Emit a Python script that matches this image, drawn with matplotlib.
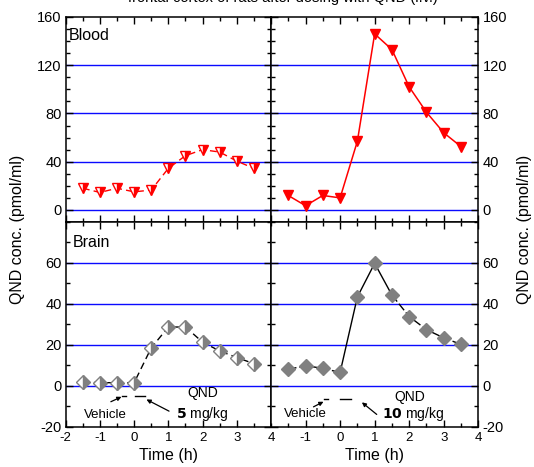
import matplotlib
matplotlib.use("Agg")
import matplotlib.pyplot as plt
from matplotlib.ticker import MultipleLocator

plt.rcParams['font.family'] = ['Liberation Sans', 'DejaVu Sans']
plt.rcParams['axes.unicode_minus'] = False

# Sampling times (h), dosing at t = 0
time_h = [-1.5, -1.0, -0.5, 0.0, 0.5, 1.0, 1.5, 2.0, 2.5, 3.0, 3.5]

# QND concentration (pmol/ml)
blood_5 = [18, 14.5, 18, 15, 16.5, 34.5, 45, 50, 48, 40.5, 34.5]
blood_10 = [12, 3.5, 12, 10, 57, 146, 133, 102, 81, 64, 52.5]
brain_5 = [1.8, 1.5, 1.5, 1.5, 18.5, 28.7, 28.7, 21.3, 17, 13.8, 10.8]
brain_10 = [8, 9.8, 8.5, 6.5, 43.4, 59.8, 44.3, 33.8, 27.4, 23.4, 20.2]

doses = ["5", "10"]
title_text = "frontal cortex of rats after dosing with QND (i.v.)"
ylabel_text = "QND conc. (pmol/ml)"
xlabel_text = "Time (h)"

W, H = 534, 467
fig = plt.figure(figsize=(W / 100, H / 100), dpi=100)

x0, xm, x1 = 65.7, 271.0, 478.3
yt, ymid, yb = 17.0, 222.0, 426.7


def add_ax(xa, xb, ya, yb_):
    return fig.add_axes([xa / W, 1 - yb_ / H, (xb - xa) / W, (yb_ - ya) / H])


ax_bl = add_ax(x0, xm, yt, ymid)
ax_br = add_ax(xm, x1, yt, ymid)
ax_nl = add_ax(x0, xm, ymid, yb)
ax_nr = add_ax(xm, x1, ymid, yb)

RED = '#ff0000'
GRAY = '#808080'
BLUE = '#0a0aff'


def style(ax, top, right):
    ax.set_xlim(-2, 4)
    ax.xaxis.set_major_locator(MultipleLocator(1))
    ax.xaxis.set_minor_locator(MultipleLocator(0.5))
    if top:
        ax.set_ylim(-10, 160)
        ax.set_yticks([0, 40, 80, 120, 160])
        ax.yaxis.set_minor_locator(MultipleLocator(10))
        grid = [0, 40, 80, 120]
    else:
        ax.set_ylim(-20, 80)
        ax.set_yticks([-20, 0, 20, 40, 60])
        ax.yaxis.set_minor_locator(MultipleLocator(10))
        grid = [0, 20, 40, 60]
    for g in grid:
        ax.axhline(g, color=BLUE, lw=1.0, zorder=1)
    ax.tick_params(which='both', direction='in', top=True, bottom=True,
                   left=True, right=True, labelsize=10.5, width=1.0,
                   pad=3)
    ax.tick_params(which='major', length=5)
    ax.tick_params(which='minor', length=3)
    ax.tick_params(axis='y', labelleft=not right, labelright=right)
    ax.tick_params(axis='x', labelbottom=not top, labelsize=9.5, pad=4)
    for s in ax.spines.values():
        s.set_linewidth(1.1)


style(ax_bl, True, False)
style(ax_br, True, True)
style(ax_nl, False, False)
style(ax_nr, False, True)
ax_nr.set_xticks([-1, 0, 1, 2, 3, 4])
ax_nr.xaxis.set_minor_locator(MultipleLocator(0.5))

dash = (0, (5, 3))

# 5 mg/kg: half-filled markers, dashed line
ax_bl.plot(time_h, blood_5, color=RED, lw=1.0, linestyle=dash, zorder=3)
ax_bl.plot(time_h, blood_5, linestyle='none', marker='v', ms=7,
           color=RED, fillstyle='right', markerfacecoloralt='white',
           markeredgecolor=RED, markeredgewidth=1.0, zorder=4)
ax_nl.plot(time_h, brain_5, color='black', lw=1.0, linestyle=dash, zorder=3)
ax_nl.plot(time_h, brain_5, linestyle='none', marker='D', ms=7,
           color=GRAY, fillstyle='right', markerfacecoloralt='white',
           markeredgecolor=GRAY, markeredgewidth=1.0, zorder=4)

# 10 mg/kg: filled markers
ax_br.plot(time_h, blood_10, color=RED, lw=1.1, zorder=3)
ax_br.plot(time_h, blood_10, linestyle='none', marker='v', ms=7.5,
           color=RED, markeredgecolor=RED, zorder=4)
ax_nr.plot(time_h[:4], brain_10[:4], color='black', lw=1.0,
           linestyle=(0, (6, 2)), zorder=3)
ax_nr.plot(time_h[3:7], brain_10[3:7], color='black', lw=1.0, zorder=3)
ax_nr.plot(time_h[6:], brain_10[6:], color='black', lw=1.0,
           linestyle=(0, (6, 2)), zorder=3)
ax_nr.plot(time_h, brain_10, linestyle='none', marker='D', ms=7,
           color=GRAY, markeredgecolor=GRAY, zorder=4)

ax_bl.text(-1.9, 145, "Blood", fontsize=11.5, ha='left', va='center')
ax_nl.text(-1.8, 70, "Brain", fontsize=11.5, ha='left', va='center')

# Legend samples with arrows in the brain panels
legend_pos = {
    ax_nl: dict(y=-5.0, veh_txt=(-0.83, -14.4), veh_from=(-0.68, -7.8),
                veh_to=(-0.37, -5.4), qnd_txt=(2.0, -3.7),
                dose_txt=(2.0, -14.0), qnd_from=(1.02, -12.4),
                qnd_to=(0.36, -6.7), x_a=(-0.35, -0.25), x_b=(0.02, 0.31)),
    ax_nr: dict(y=-6.5, veh_txt=(-1.01, -14.0), veh_from=(-0.77, -10.3),
                veh_to=(-0.48, -7.8), qnd_txt=(2.03, -5.4),
                dose_txt=(2.1, -14.0), qnd_from=(1.06, -14.0),
                qnd_to=(0.63, -8.1), x_a=(-0.48, -0.35), x_b=(0.0, 0.31)),
}
for ax, dose in zip([ax_nl, ax_nr], doses):
    p = legend_pos[ax]
    ax.plot(p['x_a'], [p['y'], p['y']], color='black', lw=1.0)
    ax.plot(p['x_b'], [p['y'], p['y']], color='black', lw=1.0)
    ax.text(*p['veh_txt'], "Vehicle", fontsize=9.5, ha='center', va='center')
    ax.annotate("", xy=p['veh_to'], xytext=p['veh_from'],
                arrowprops=dict(arrowstyle='-|>', color='black', lw=0.9,
                                mutation_scale=6, shrinkA=0, shrinkB=0))
    ax.text(*p['qnd_txt'], "QND", fontsize=10, ha='center', va='center')
    ax.text(*p['dose_txt'], r"$\mathbf{" + dose + r"}$ mg/kg", fontsize=10,
            ha='center', va='center')
    ax.annotate("", xy=p['qnd_to'], xytext=p['qnd_from'],
                arrowprops=dict(arrowstyle='-|>', color='black', lw=0.9,
                                mutation_scale=6, shrinkA=0, shrinkB=0))

for ax in [ax_nl, ax_nr]:
    ax.set_xlabel(xlabel_text, fontsize=11.5, labelpad=3)

fig.text(18 / W, 1 - 229 / H, ylabel_text, rotation=90, fontsize=11.5,
         ha='center', va='center')
fig.text(525 / W, 1 - 229 / H, ylabel_text, rotation=90, fontsize=11.5,
         ha='center', va='center')

fig.text(283 / W, 1 - 2 / H, title_text, fontsize=10.5, ha='center',
         va='baseline')

fig.savefig("out.png", dpi=100)
